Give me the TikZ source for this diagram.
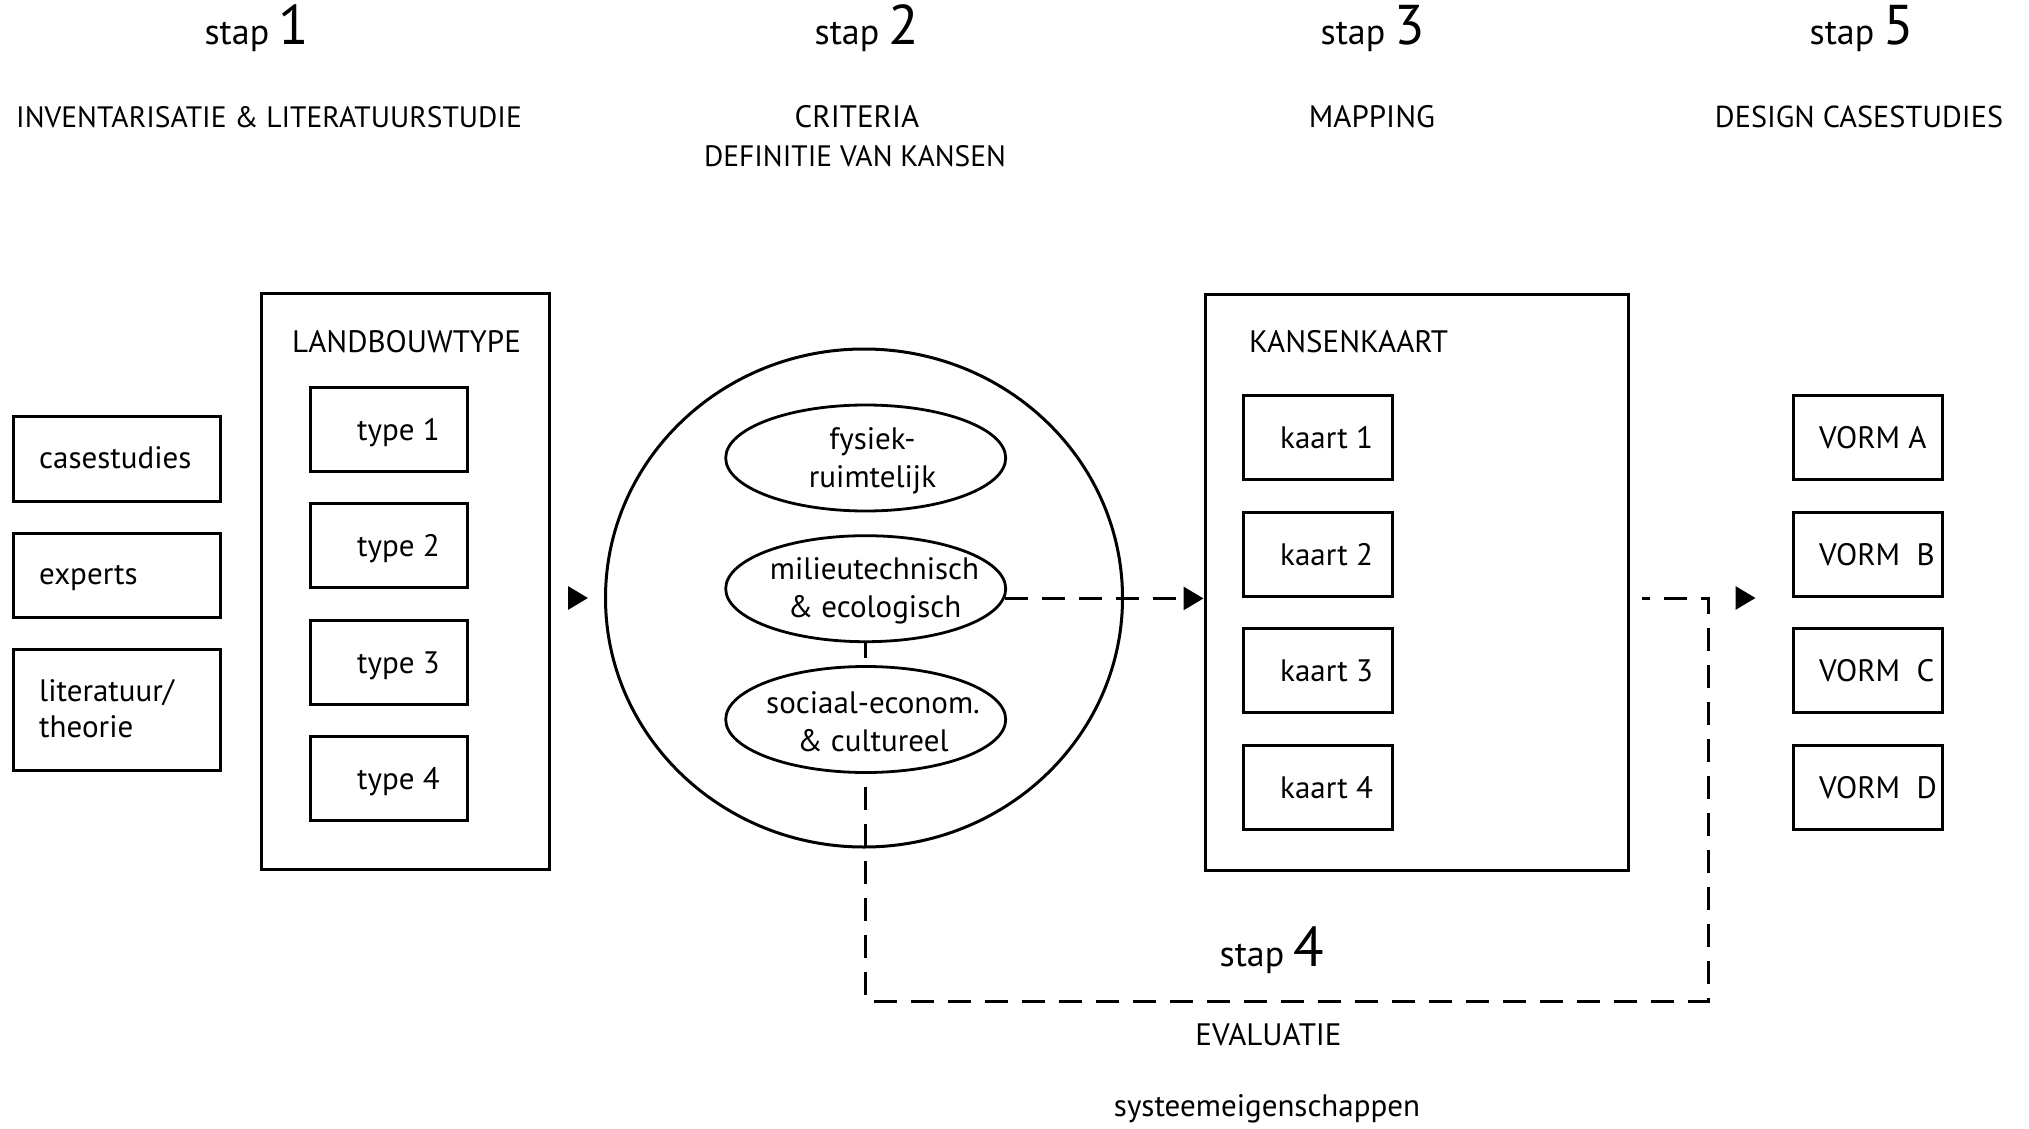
\documentclass[tikz,border=0pt]{standalone}
\usepackage{fontspec}
\setmainfont{PT Sans}
\usetikzlibrary{arrows.meta,shapes.geometric}
\newcommand\lblf{\fontsize{31}{38}\selectfont}
\newcommand\ttlf{\fontsize{29.5}{36}\selectfont}
\newcommand\stapf{\fontsize{36}{42}\selectfont}
\newcommand\digf{\fontsize{56}{62}\selectfont}
\begin{document}
\begin{tikzpicture}[x=1pt,y=-1pt,
  bx/.style={draw, line width=3pt, rectangle, inner sep=0pt},
  ell/.style={draw, line width=2.8pt, ellipse, inner sep=0pt, minimum width=280pt, minimum height=106pt},
  lbl/.style={font=\lblf, inner sep=0pt},
  ttl/.style={font=\lblf, inner sep=0pt, anchor=base},
  dsh/.style={line width=3pt, dash pattern=on 23pt off 14pt},
  tip/.style={-{Triangle[length=20pt,width=23pt]}},
  headonly/.style={line width=3pt, dash pattern=on 0pt off 5000pt, -{Triangle[length=20pt,width=23pt]}}
]
\useasboundingbox (0,0) rectangle (2029,1129);
\coordinate (ay) at (0,598);

% titles
\node[ttl] (s1) at (257,45) {\stapf stap \digf 1};
\node[ttl] (s2) at (867,45) {\stapf stap \digf 2};
\node[ttl] (s3) at (1373,45) {\stapf stap \digf 3};
\node[ttl] (s5) at (1862,45) {\stapf stap \digf 5};
\node[ttl, font=\ttlf] (h1) at (269,128) {INVENTARISATIE \& LITERATUURSTUDIE};
\node[ttl] (h2a) at (857,128) {CRITERIA};
\node[ttl, font=\ttlf] (h2b) at (855,167) {DEFINITIE VAN KANSEN};
\node[ttl] (h3) at (1372,128) {MAPPING};
\node[ttl, font=\fontsize{30.3}{36}\selectfont] (h5) at (1859,128) {DESIGN CASESTUDIES};

% left inputs
\node[bx, minimum width=207pt, minimum height=85pt] (cs) at (116.5,458.5) {};
\node[bx, minimum width=207pt, minimum height=84pt] (ex) at (116.5,575) {};
\node[bx, minimum width=207pt, minimum height=121pt] (lt) at (116.5,709.5) {};
\node[lbl, anchor=base west] (cst) at (39,468) {casestudies};
\node[lbl, anchor=base west] (ext) at (39,584.5) {experts};
\node[lbl, anchor=base west] (ltt1) at (39,701) {literatuur/};
\node[lbl, anchor=base west] (ltt2) at (39,737.5) {theorie};

% landbouwtype
\node[bx, minimum width=288pt, minimum height=576pt] (lbt) at (405,581) {};
\node[ttl] (lbtt) at (406.5,352) {LANDBOUWTYPE};
\foreach \i/\y in {1/429,2/545.5,3/662,4/778.5}{
  \node[bx, minimum width=157pt, minimum height=84pt] (ty\i) at (389.3,\y) {};
  \node[lbl, anchor=base west] (tyt\i) at (357,\y+11) {type \i};
}

% criteria circle
\node[draw, line width=3pt, ellipse, inner sep=0pt, minimum width=517pt, minimum height=498pt] (circ) at (864,598) {};
\node[ell] (fys) at (865.7,458) {};
\node[ell] (mil) at (865.7,588.7) {};
\node[ell] (soc) at (865.7,719.5) {};
\node[lbl, align=center] (fyst) at (872.5,461) {fysiek-\\ruimtelijk};
\node[lbl, align=center] (milt) at (874.5,591) {milieutechnisch\\\& ecologisch};
\node[lbl, align=center] (soct) at (873,722) {sociaal-econom.\\\& cultureel};

% kansenkaart
\node[bx, minimum width=423pt, minimum height=576pt] (kk) at (1416.5,582) {};
\node[lbl, anchor=base west] (kkt) at (1249,352) {KANSENKAART};
\foreach \i/\y in {1/437.5,2/554.2,3/670.9,4/787.6}{
  \node[bx, minimum width=149pt, minimum height=84pt] (ka\i) at (1317.5,\y) {};
  \node[lbl, anchor=base west] (kat\i) at (1280,\y+11) {kaart \i};
}

% vorm
\foreach \i/\y/\l in {A/437.5/VORM A,B/554.2/VORM\ \ B,C/670.9/VORM\ \ C,D/787.6/VORM\ \ D}{
  \node[bx, minimum width=149pt, minimum height=84pt] (v\i) at (1867.5,\y) {};
  \node[lbl, anchor=base west] (vt\i) at (1819,\y+11) {\l};
}

% stap 4
\node[ttl] (s4) at (1272,966) {\stapf stap \digf 4};
\node[ttl] (ev) at (1268.5,1045) {EVALUATIE};
\node[ttl] (se) at (1267,1116) {systeemeigenschappen};

% connectors
\draw[headonly, shorten >=16pt] (lbt.east |- ay) -- (circ.west);
\draw[dsh, tip] (mil.-4) -- (mil.-4 -| kk.west);
\draw[line width=3pt, dash pattern=on 15pt off 14pt] (mil.south) -- (soc.north);
\coordinate (c1) at (1708,598);
\coordinate (c2) at (1708,1001);
\draw[dsh, dash phase=24pt] (soc.south) -- (c2 -| soc.south) -- (c2) -- (c1) -- ([xshift=12pt]kk.east |- ay);
\draw[headonly, shorten >=36pt] (kk.east |- ay) -- (vA.west |- ay);
\end{tikzpicture}
\end{document}
